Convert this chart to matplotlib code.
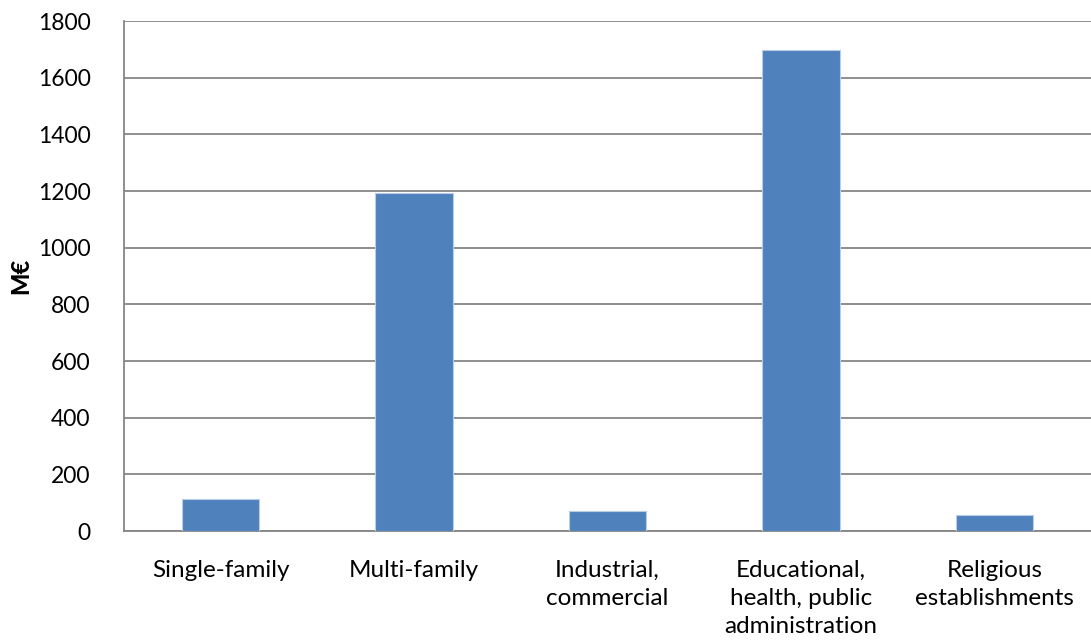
import matplotlib.pyplot as plt
import numpy as np

# Investment by building type
categories = ['Single-family', 'Multi-family', 'Industrial,\ncommercial',
              'Educational,\nhealth, public\nadministration', 'Religious\nestablishments']
values = [113, 1194, 71, 1699, 57]
yticks = [0, 200, 400, 600, 800, 1000, 1200, 1400, 1600, 1800]

plt.rcParams['font.family'] = ['Lato', 'DejaVu Sans']

fig = plt.figure(figsize=(10.91, 6.43), dpi=100)
ax = fig.add_axes([124 / 1091, 1 - 531 / 643, (1091 - 124) / 1091, 510 / 643])

x = np.arange(len(categories))
ax.bar(x, values, width=0.4, color='#4F81BD', edgecolor='#B9CDE5', linewidth=0.8, zorder=3)

ax.set_xlim(-0.5, len(categories) - 0.5)
ax.set_ylim(0, 1800)
ax.set_yticks(yticks)
ax.set_yticklabels([str(v) for v in yticks], fontsize=16.5)
ax.set_xticks(x)
ax.set_xticklabels(categories, fontsize=17.5, linespacing=1.42, va='top')

ax.grid(axis='y', color='#868686', linewidth=1.3, zorder=0)
for side in ['top', 'right']:
    ax.spines[side].set_visible(False)
for side in ['left', 'bottom']:
    ax.spines[side].set_color('#868686')
    ax.spines[side].set_linewidth(1.3)

ax.tick_params(axis='x', length=0, pad=21)
ax.tick_params(axis='y', length=0, pad=24)

ax.set_ylabel('M€', fontsize=17, fontweight='black', labelpad=4)

fig.savefig('out.png', dpi=100)
